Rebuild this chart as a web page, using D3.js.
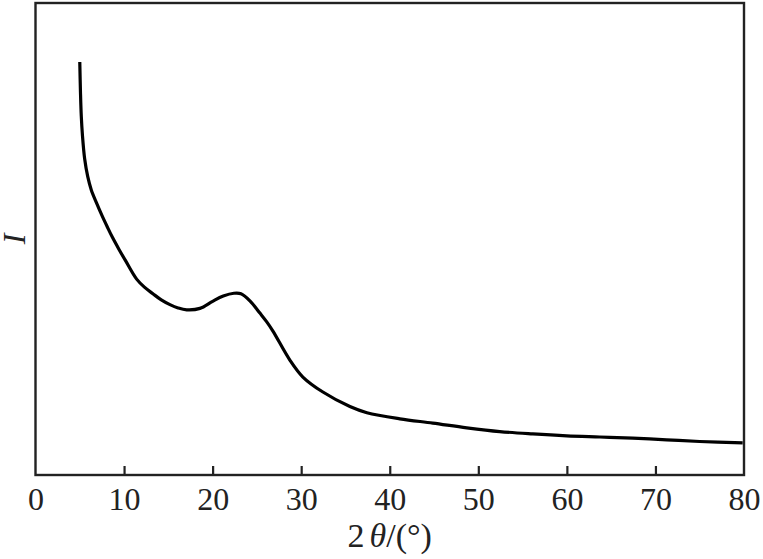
<!DOCTYPE html>
<html>
<head>
<meta charset="utf-8">
<script src="https://cdn.jsdelivr.net/npm/d3@7/dist/d3.min.js"></script>
<style>
  html, body { margin: 0; padding: 0; background: #fff; }
  svg { display: block; }
</style>
</head>
<body>
<script>
// 2θ (degrees) values
const twoTheta = [5.0, 5.08, 5.17, 5.3, 5.55, 5.9, 6.3, 6.9, 7.5, 8.1, 8.7, 9.4, 10.2,
  11.42, 12.3, 13.26, 14.2, 15.18, 16.1, 17.07, 18.57, 20.0, 21.2, 22.4, 23.2, 24.21, 25.34, 26.09, 26.81, 28.72,
  30.19, 32.45, 35.5, 37.42, 41.14, 44.86, 48.7, 52.42, 56.15, 59.99, 63.71, 67.44, 71.27, 74.99, 79.85];
// Intensity (arbitrary units)
const intensity = [875, 810, 760, 720, 670, 632, 604, 576, 550, 526, 503, 479, 453,
  415, 398, 384, 371, 361, 354, 350, 353, 368, 379, 385, 384, 369, 343, 325, 305, 243.6,
  207.6, 175.8, 145, 132, 119, 110, 100, 92, 87, 83, 80.5, 78, 74.5, 71, 68];
const xTicks = [0, 10, 20, 30, 40, 50, 60, 70, 80];
const xDomain = [0, 80];
const yDomain = [0, 1000];

const W = 763, H = 559;
const margin = { left: 35.5, right: 19, top: 3, bottom: 84 };
const iw = W - margin.left - margin.right;
const ih = H - margin.top - margin.bottom;

const svg = d3.select("body").append("svg").attr("width", W).attr("height", H);
const g = svg.append("g").attr("transform", `translate(${margin.left},${margin.top})`);

const x = d3.scaleLinear().domain(xDomain).range([0, iw]);
const y = d3.scaleLinear().domain(yDomain).range([ih, 0]);

const font = "'Liberation Serif', 'Times New Roman', serif";

// x axis ticks (inward) and labels
const ax = g.append("g").attr("transform", `translate(0,${ih})`)
  .call(d3.axisBottom(x).tickValues(xTicks).tickSizeInner(-9).tickSizeOuter(0).tickFormat(d3.format("d")));
ax.select(".domain").remove();
ax.selectAll(".tick line").attr("stroke", "#222").attr("stroke-width", 2.2)
  .filter(d => d === 0 || d === 80).remove();
ax.selectAll(".tick text").attr("y", 35).attr("dy", 0)
  .attr("font-family", font).attr("font-size", 32).attr("fill", "#222");

// frame
g.append("rect").attr("x", 0).attr("y", 0).attr("width", iw).attr("height", ih)
  .attr("fill", "none").attr("stroke", "#222").attr("stroke-width", 2.4);

// curve
const data = twoTheta.map((t, i) => ({ t, v: intensity[i] }));
g.append("path").datum(data)
  .attr("fill", "none").attr("stroke", "#000").attr("stroke-width", 3.2)
  .attr("stroke-linejoin", "round")
  .attr("d", d3.line().x(d => x(d.t)).y(d => y(d.v)).curve(d3.curveCatmullRom.alpha(0.5)));

// x label
const xl = svg.append("text").attr("x", margin.left + iw / 2).attr("y", 547)
  .attr("text-anchor", "middle").attr("font-family", font).attr("font-size", 34).attr("fill", "#222");
xl.append("tspan").text("2");
xl.append("tspan").attr("font-style", "italic").attr("dx", 5).text("θ");
xl.append("tspan").text("/(°)");

// y label
svg.append("text").attr("transform", `translate(${25},${margin.top + ih / 2}) rotate(-90)`)
  .attr("text-anchor", "middle").attr("font-family", font).attr("font-size", 32)
  .attr("font-style", "italic").attr("fill", "#222").text("I");
</script>
</body>
</html>
